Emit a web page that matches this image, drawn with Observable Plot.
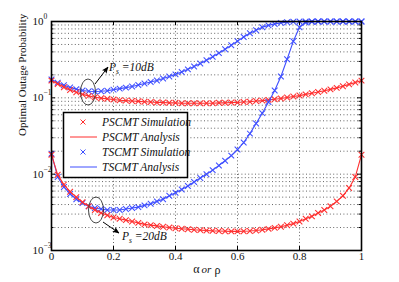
<!DOCTYPE html>
<html>
<head>
<meta charset="utf-8">
<script src="https://cdn.jsdelivr.net/npm/d3@7"></script>
<script src="https://cdn.jsdelivr.net/npm/@observablehq/plot@0.6"></script>
<style>
  html, body { margin: 0; padding: 0; background: #fff; }
  #chart svg { display: block; }
</style>
</head>
<body>
<div id="chart"></div>
<script>
// ---- data ----
const alpha = [0,0.02,0.04,0.06,0.08,0.10,0.12,0.14,0.16,0.18,0.20,0.22,0.24,0.26,0.28,0.30,0.32,0.34,0.36,0.38,0.40,0.42,0.44,0.46,0.48,0.50,0.52,0.54,0.56,0.58,0.60,0.62,0.64,0.66,0.68,0.70,0.72,0.74,0.76,0.78,0.80,0.82,0.84,0.86,0.88,0.90,0.92,0.94,0.96,0.98,1.00];

const pscmt10 = [0.168,0.152,0.138,0.127,0.118,0.111,0.106,0.102,0.099,0.097,0.095,0.093,0.092,0.091,0.090,0.089,0.088,0.087,0.087,0.086,0.086,0.085,0.085,0.085,0.085,0.085,0.085,0.086,0.086,0.087,0.087,0.088,0.089,0.091,0.092,0.094,0.096,0.098,0.101,0.104,0.107,0.111,0.115,0.119,0.124,0.129,0.135,0.142,0.150,0.159,0.168];

const tscmt10 = [0.174,0.158,0.146,0.137,0.130,0.125,0.122,0.121,0.122,0.124,0.128,0.132,0.136,0.141,0.147,0.154,0.161,0.169,0.179,0.190,0.203,0.218,0.236,0.257,0.282,0.311,0.345,0.385,0.432,0.488,0.553,0.625,0.70,0.77,0.84,0.89,0.93,0.96,0.98,0.993,1.0,1.0,1.0,1.0,1.0,1.0,1.0,1.0,1.0,1.0,1.0];

const pscmt20 = [0.0180,0.0098,0.0073,0.0059,0.0050,0.0043,0.0038,0.0034,0.0031,0.0029,0.0027,0.0026,0.0025,0.0024,0.0023,0.0022,0.00215,0.0021,0.00205,0.0020,0.00196,0.00193,0.0019,0.00187,0.00185,0.00183,0.00181,0.0018,0.00179,0.00178,0.00178,0.00179,0.0018,0.00183,0.00187,0.00192,0.00198,0.00205,0.00214,0.00225,0.0024,0.0026,0.0028,0.0031,0.0034,0.0038,0.0044,0.0052,0.0066,0.0092,0.0180];

const tscmt20 = [0.0185,0.0092,0.0068,0.0055,0.0047,0.0042,0.0038,0.0036,0.0035,0.0034,0.0034,0.0034,0.0035,0.0036,0.0037,0.0039,0.0041,0.0044,0.0047,0.0052,0.0057,0.0063,0.0070,0.0079,0.0089,0.0100,0.0113,0.0130,0.0150,0.0175,0.0210,0.0260,0.034,0.046,0.063,0.088,0.125,0.19,0.32,0.55,0.84,0.97,0.995,1.0,1.0,1.0,1.0,1.0,1.0,1.0,1.0];

const xTicks = [0, 0.2, 0.4, 0.6, 0.8, 1];
const xTickLabels = ["0", "0.2", "0.4", "0.6", "0.8", "1"];
const yDecades = [0.001, 0.01, 0.1, 1];
const yExponents = ["\u22123", "\u22122", "\u22121", "0"];
const yMinor = [0.002,0.003,0.004,0.005,0.006,0.007,0.008,0.009,0.02,0.03,0.04,0.05,0.06,0.07,0.08,0.09,0.2,0.3,0.4,0.5,0.6,0.7,0.8,0.9];
const seriesNames = ["PSCMT Simulation", "PSCMT Analysis", "TSCMT Simulation", "TSCMT Analysis"];

// ---- build table ----
const RED = "#ff2f2f", BLUE = "#3f4fff";
const rows = (vals) => alpha.map((a, i) => ({a, v: vals[i]}));
const series = [
  {data: rows(tscmt10), color: BLUE},
  {data: rows(pscmt10), color: RED},
  {data: rows(tscmt20), color: BLUE},
  {data: rows(pscmt20), color: RED}
];

const W = 399, H = 282;
const mL = 51, mR = 38, mT = 21, mB = 32;
const iW = W - mL - mR, iH = H - mT - mB;
const grid = {stroke: "#555", strokeDasharray: "1,2.4", strokeWidth: 0.9};

const marks = [
  Plot.ruleY(yMinor.concat([0.01, 0.1]), grid),
  Plot.ruleX(xTicks.slice(1, -1), grid)
];
for (const s of series) {
  marks.push(Plot.line(s.data, {x: "a", y: "v", stroke: s.color, strokeWidth: 1.1}));
  marks.push(Plot.dot(s.data, {x: "a", y: "v", symbol: "times", r: 2.7, stroke: s.color, strokeWidth: 1.05}));
}
marks.push(
  Plot.frame({stroke: "black", strokeWidth: 1.6}),
  // inward ticks
  Plot.tickX(xTicks, {x: d => d, insetTop: iH - 4, stroke: "black", strokeWidth: 1}),
  Plot.tickX(xTicks, {x: d => d, insetBottom: iH - 4, stroke: "black", strokeWidth: 1}),
  Plot.tickY(yDecades, {y: d => d, insetRight: iW - 4, stroke: "black", strokeWidth: 1}),
  Plot.tickY(yDecades, {y: d => d, insetLeft: iW - 4, stroke: "black", strokeWidth: 1}),
  Plot.tickY(yMinor, {y: d => d, insetRight: iW - 2.5, stroke: "black", strokeWidth: 1}),
  Plot.tickY(yMinor, {y: d => d, insetLeft: iW - 2.5, stroke: "black", strokeWidth: 1}),
  // x tick labels
  Plot.text(xTicks, {x: d => d, frameAnchor: "bottom", dy: 9, text: (d, i) => xTickLabels[i], fontSize: 11, fill: "#111"}),
  // y tick labels 10^n
  Plot.text(yDecades, {y: d => d, frameAnchor: "left", dx: -19, textAnchor: "start", text: () => "10", fontSize: 11, fill: "#111"}),
  Plot.text(yDecades, {y: d => d, frameAnchor: "left", dx: -8, dy: -5, textAnchor: "start", text: (d, i) => yExponents[i], fontSize: 7.5, fill: "#111"}),
  // x axis label
  Plot.text(["\u03b1"], {frameAnchor: "bottom", dx: -10, dy: 22, fontSize: 12, fill: "#111"}),
  Plot.text(["or"], {frameAnchor: "bottom", dx: 0, dy: 22, fontSize: 11, fontStyle: "italic", fill: "#111"}),
  Plot.text(["\u03c1"], {frameAnchor: "bottom", dx: 11, dy: 23, fontSize: 12, fill: "#111"}),
  // y axis label
  Plot.text(["Optimal Outage Probability"], {frameAnchor: "left", dx: -29, rotate: -90, fontSize: 11, fill: "#111"})
);

const plot = Plot.plot({
  width: W, height: H,
  marginLeft: mL, marginRight: mR, marginTop: mT, marginBottom: mB,
  x: {domain: [0, 1], axis: null},
  y: {type: "log", domain: [0.001, 1], axis: null},
  style: {fontFamily: "'Liberation Serif', 'DejaVu Serif', serif", fontSize: "11px", background: "white", overflow: "visible"},
  marks
});
document.getElementById("chart").appendChild(plot);

// ---- annotations and legend ----
const svg = d3.select(plot);
const ann = svg.append("g").attr("text-anchor", "start");
ann.append("defs").append("marker")
  .attr("id", "ah").attr("viewBox", "0 0 10 10").attr("refX", 9).attr("refY", 5)
  .attr("markerWidth", 7).attr("markerHeight", 7).attr("orient", "auto")
  .append("path").attr("d", "M0,1L10,5L0,9L2,5Z").attr("fill", "black");

function callout(cx, cy, x1, y1, x2, y2, tx, ty, label) {
  ann.append("ellipse").attr("cx", cx).attr("cy", cy).attr("rx", 7.5).attr("ry", 13)
    .attr("fill", "none").attr("stroke", "#333").attr("stroke-width", 0.9);
  ann.append("line").attr("x1", x1).attr("y1", y1).attr("x2", x2).attr("y2", y2)
    .attr("stroke", "black").attr("stroke-width", 1).attr("marker-end", "url(#ah)");
  const t = ann.append("text").attr("x", tx).attr("y", ty).attr("text-anchor", "start")
    .attr("font-family", "'Liberation Serif', serif").attr("font-size", 11.5)
    .attr("font-style", "italic").attr("fill", "#111");
  t.append("tspan").text("P");
  t.append("tspan").attr("font-size", 7.5).attr("dy", 3).text("s");
  t.append("tspan").attr("dy", -3).text(" =" + label);
}
callout(88, 92, 95, 84, 108, 67, 109, 71, "10dB");
callout(96, 210, 103, 222, 119, 233, 122, 240, "20dB");

const lg = svg.append("g").attr("text-anchor", "start");
lg.append("rect").attr("x", 63.5).attr("y", 112.5).attr("width", 124).attr("height", 65)
  .attr("fill", "white").attr("stroke", "black").attr("stroke-width", 1.5);
const legendItems = [
  {name: seriesNames[0], color: RED, kind: "marker"},
  {name: seriesNames[1], color: RED, kind: "line"},
  {name: seriesNames[2], color: BLUE, kind: "marker"},
  {name: seriesNames[3], color: BLUE, kind: "line"}
];
legendItems.forEach((it, i) => {
  const y = 122 + i * 15;
  if (it.kind === "marker") {
    lg.append("path").attr("d", `M80.5,${y - 2.5}L85.5,${y + 2.5}M80.5,${y + 2.5}L85.5,${y - 2.5}`)
      .attr("stroke", it.color).attr("stroke-width", 1);
  } else {
    lg.append("line").attr("x1", 70).attr("x2", 97).attr("y1", y).attr("y2", y)
      .attr("stroke", it.color).attr("stroke-width", 1);
  }
  lg.append("text").attr("x", 102).attr("y", y).attr("dy", "0.35em").attr("text-anchor", "start")
    .attr("font-family", "'Liberation Serif', serif").attr("font-size", 11.5)
    .attr("font-style", "italic").attr("fill", "#111").text(it.name);
});
</script>
</body>
</html>
